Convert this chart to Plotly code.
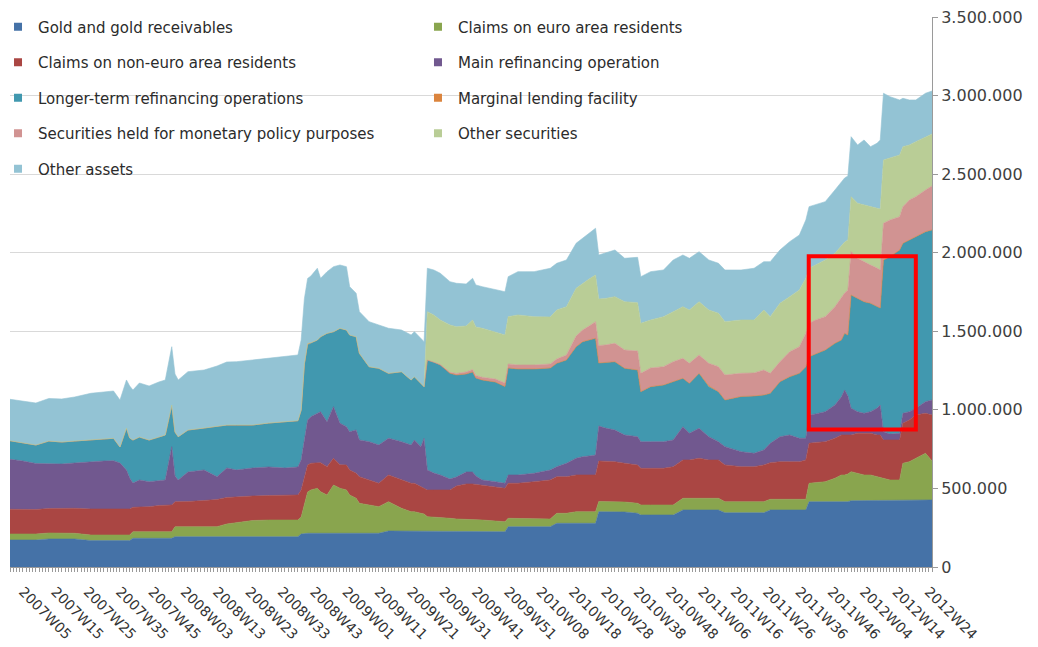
import plotly.graph_objects as go

# ---------------- data (EUR millions, weekly financial statements) ----------------
weeks = [
    "2007W01", "2007W05", "2007W09", "2007W13", "2007W17", "2007W21", "2007W26", "2007W30", "2007W33", "2007W35",
    "2007W37", "2007W38", "2007W39", "2007W41", "2007W44", "2007W47", "2007W49", "2007W51", "2007W52",
    "2008W01", "2008W04", "2008W09", "2008W13", "2008W16", "2008W19", "2008W24", "2008W29", "2008W34", "2008W38",
    "2008W39", "2008W40", "2008W41", "2008W42", "2008W44", "2008W45", "2008W47", "2008W49", "2008W51",
    "2009W01", "2009W02", "2009W04", "2009W05", "2009W08", "2009W11", "2009W14", "2009W18", "2009W21", "2009W22",
    "2009W24", "2009W25", "2009W26", "2009W28", "2009W30", "2009W33", "2009W35", "2009W38", "2009W40", "2009W41",
    "2009W43", "2009W47", "2009W50", "2009W51",
    "2010W01", "2010W06", "2010W11", "2010W13", "2010W16", "2010W19", "2010W21", "2010W23", "2010W25", "2010W26",
    "2010W28", "2010W31", "2010W34", "2010W38", "2010W39", "2010W42", "2010W46", "2010W49", "2010W52",
    "2011W02", "2011W05", "2011W08", "2011W11", "2011W13", "2011W18", "2011W22", "2011W25", "2011W27", "2011W30",
    "2011W33", "2011W36", "2011W38", "2011W39", "2011W41", "2011W44", "2011W47", "2011W49", "2011W50", "2011W51",
    "2011W52",
    "2012W02", "2012W04", "2012W06", "2012W08", "2012W09", "2012W10", "2012W12", "2012W15", "2012W16", "2012W18",
    "2012W20", "2012W23", "2012W25",
]

gold = [
    171800, 171800, 171800, 178200, 178200, 178200, 168600, 168600, 168600, 168600,
    168600, 168600, 182600, 182600, 182600, 182600, 182600, 182600, 192800,
    192800, 192800, 192800, 192800, 192800, 192800, 192800, 192800, 192800, 192800,
    210000, 214500, 214500, 214500, 214500, 214500, 214500, 214500, 214500,
    214500, 214500, 214500, 214500, 214500, 214500, 229100, 229100, 229100, 229100,
    229100, 229100, 229100, 229100, 229100, 225900, 225900, 225900, 225900, 225900,
    225900, 225900, 224600, 256500,
    256500, 256500, 256500, 278100, 278100, 278100, 278100, 278100, 278100, 351900,
    351900, 351900, 350000, 341700, 330900, 330900, 330900, 330900, 362700,
    362700, 362700, 362700, 362700, 345600, 345600, 345600, 345600, 362700, 362700,
    362700, 362700, 362700, 415600, 415600, 415600, 415600, 415600, 415600, 415600,
    421900,
    421900, 421900, 421900, 421900, 421900, 421900, 421900, 421900, 421900, 421900,
    426400, 426400, 426400,
]

claims_euro = [
    38200, 38200, 38200, 38200, 36300, 36300, 35000, 35000, 35000, 35000,
    35000, 35000, 42000, 42000, 42000, 42000, 42000, 42000, 63600,
    63600, 63600, 63600, 63600, 80800, 89100, 103100, 106300, 106300, 106300,
    108200, 180100, 262800, 275600, 286400, 264700, 243700, 307400, 286400,
    275600, 243700, 222700, 190900, 180100, 169300, 186500, 144500, 122800, 122800,
    112600, 108200, 91000, 89100, 85900, 84000, 79600, 77600, 77600, 76400,
    73200, 66800, 63600, 53500,
    53500, 53500, 49000, 63600, 63600, 73800, 73800, 73800, 73800, 64900,
    64900, 63600, 63600, 63600, 63600, 63600, 63600, 63600, 74500,
    74500, 74500, 74500, 74500, 70000, 70000, 70000, 70000, 68100, 68100,
    68100, 63600, 68100, 117100, 122200, 127300, 148900, 169900, 169900, 176300,
    184600,
    174400, 163600, 163600, 152700, 150800, 142600, 131700, 131700, 238000, 248200,
    265400, 297200, 248200,
]

claims_non_euro = [
    157200, 155900, 155900, 155900, 159100, 159100, 165500, 165500, 165500, 165500,
    165500, 165500, 155300, 155300, 159100, 166700, 169900, 169900, 159100,
    159100, 160400, 166700, 173100, 168600, 165500, 155900, 155900, 159100, 159100,
    171800, 171800, 171800, 169900, 165000, 185000, 180000, 169900, 150000,
    159100, 159100, 159100, 169300, 159100, 148900, 169900, 180100, 180700, 180700,
    169300, 165500, 169900, 171800, 175000, 180100, 210000, 224600, 224600, 222700,
    222700, 218300, 212600, 222700,
    222700, 232900, 248200, 232900, 232900, 233600, 233600, 233600, 233600, 257700,
    257700, 254600, 246300, 243700, 233600, 233600, 233600, 243700, 243700,
    243700, 254600, 243700, 243700, 233600, 222700, 222700, 233600, 232900, 239300,
    239300, 243700, 250100, 254600, 254600, 254600, 254600, 254600, 254600, 248200,
    233600,
    254600, 265400, 265400, 265400, 267300, 243700, 254600, 254600, 254600, 265400,
    275600, 254600, 292700,
]

main_refinancing = [
    318200, 308700, 292700, 283200, 281900, 288300, 301000, 305500, 307400, 292700,
    248200, 197300, 154600, 173700, 159100, 159100, 159100, 371000, 163600,
    138100, 187700, 194100, 145100, 187700, 169900, 178200, 181400, 171800, 178200,
    190900, 241800, 286400, 296600, 312300, 324100, 286500, 328400, 263700,
    243700, 243700, 275600, 233600, 243700, 243700, 233600, 243700, 243700, 275600,
    254600, 316300, 127300, 108200, 95500, 70000, 57300, 76400, 76400, 54100,
    31800, 31800, 31800, 52800,
    52800, 53500, 63600, 63600, 85300, 106300, 116500, 120900, 127300, 222700,
    210000, 201700, 180100, 180100, 169300, 169300, 169300, 169900, 211900,
    169900, 190900, 148300, 116500, 116500, 95500, 85300, 95500, 123500, 159100,
    169900, 148900, 138100, 180100, 181400, 190900, 211900, 243700, 286400, 248200,
    169900,
    137500, 127300, 137500, 169900, 190900, 52800, 38200, 42600, 63600, 52800,
    42600, 73800, 95500,
]

longer_term_refinancing = [
    118400, 114600, 117700, 146400, 140000, 140000, 138100, 140000, 142600, 101800,
    267300, 254600, 273700, 273700, 265400, 276800, 286400, 265400, 280000,
    275600, 267300, 267300, 318200, 273700, 286400, 273700, 280000, 295900, 294700,
    318200, 477300, 477300, 467100, 466500, 477300, 562600, 477300, 604600,
    615400, 615400, 593800, 551800, 477300, 488100, 413700, 445500, 413700, 402800,
    403500, 328400, 700000, 706400, 700000, 672700, 649100, 623700, 636400, 623700,
    636400, 634500, 616000, 681000,
    674600, 663800, 649100, 658000, 657400, 710200, 731900, 738200, 742700, 400900,
    416800, 434700, 424500, 424500, 318200, 350000, 360800, 371000, 308000,
    318200, 350000, 318200, 318200, 297200, 351300, 364700, 350000, 318200, 350000,
    371000, 413700, 455700, 371000, 381800, 392700, 392700, 360800, 360800, 388200,
    721000,
    721700, 710200, 689900, 646600, 617300, 1092700, 1128300, 1166500, 1081900, 1092700,
    1092100, 1081900, 1081900,
]

marginal_lending = [
    0, 0, 0, 0, 0, 0, 0, 0, 0, 0,
    0, 0, 0, 0, 0, 0, 0, 0, 0,
    0, 0, 0, 0, 0, 0, 0, 0, 0, 0,
    0, 8000, 10000, 4000, 0, 0, 0, 0, 0,
    0, 0, 0, 0, 0, 0, 0, 0, 0, 0,
    0, 0, 0, 0, 0, 0, 0, 0, 0, 0,
    0, 0, 0, 0,
    0, 0, 0, 0, 0, 0, 0, 0, 0, 0,
    0, 0, 0, 0, 0, 0, 0, 0, 0,
    0, 0, 6400, 0, 0, 0, 0, 0, 0, 0,
    0, 0, 0, 0, 0, 0, 0, 0, 0, 0,
    0,
    0, 0, 0, 0, 0, 0, 0, 0, 0, 0,
    0, 0, 0,
]

securities_monetary_policy = [
    0, 0, 0, 0, 0, 0, 0, 0, 0, 0,
    0, 0, 0, 0, 0, 0, 0, 0, 0,
    0, 0, 0, 0, 0, 0, 0, 0, 0, 0,
    0, 0, 0, 0, 0, 0, 0, 0, 0,
    0, 0, 0, 0, 0, 0, 0, 0, 0, 0,
    0, 0, 0, 0, 3200, 6400, 9500, 12700, 15900, 15900,
    17200, 19100, 22300, 25500,
    25500, 25500, 25500, 27400, 31800, 68100, 74500, 89100, 105600, 111400,
    111400, 117100, 116500, 120900, 117100, 119000, 116500, 127300, 127300,
    127300, 116500, 142600, 159100, 159100, 147600, 146400, 159100, 127300, 127300,
    159100, 169300, 212600, 212600, 216400, 211900, 232900, 275600, 256500, 286400,
    275600,
    254600, 252600, 243700, 246300, 241800, 233600, 233600, 211900, 232900, 254600,
    254600, 265400, 280000,
]

other_securities = [
    0, 0, 0, 0, 0, 0, 0, 0, 0, 0,
    0, 0, 0, 0, 0, 0, 0, 0, 0,
    0, 0, 0, 0, 0, 0, 0, 0, 0, 0,
    0, 0, 0, 0, 0, 0, 0, 0, 0,
    0, 0, 0, 0, 0, 0, 0, 0, 0, 0,
    0, 0, 307400, 299100, 283200, 301000, 297800, 292700, 315000, 308700,
    311800, 301000, 305500, 301000,
    318200, 307400, 299100, 311800, 307400, 303600, 297200, 299100, 297200, 295900,
    295900, 296600, 307400, 307400, 318200, 305500, 318200, 318200, 328400,
    339200, 339200, 339200, 339800, 339200, 339200, 337300, 381800, 360200, 371700,
    350000, 360800, 350000, 350000, 350000, 360800, 339800, 329000, 324600, 318200,
    350000,
    350000, 362700, 371000, 379900, 388200, 402800, 392700, 392700, 381800, 350000,
    350000, 339200, 330900,
]

other_assets = [
    263500, 267300, 267300, 270500, 273700, 280000, 297200, 299100, 301000, 299100,
    305500, 330900, 318200, 343700, 343700, 350000, 350000, 371000, 369100,
    360800, 371000, 369100, 386300, 400900, 402800, 413700, 411800, 416800, 418100,
    445500, 413700, 413700, 423800, 456300, 371700, 392000, 413700, 402800,
    402800, 307400, 276200, 264700, 286400, 275600, 286400, 265400, 286400, 286400,
    286400, 286400, 276200, 286400, 297200, 275600, 276200, 267300, 265400, 267300,
    264700, 265400, 275600, 254600,
    275600, 286400, 309900, 297200, 297200, 286400, 286400, 292700, 297200, 280000,
    289600, 297200, 276200, 288900, 296600, 307400, 297200, 329000, 329000,
    329000, 318200, 318200, 318200, 329000, 318200, 329000, 307400, 350000, 339200,
    350000, 350000, 371000, 392000, 381800, 371000, 402800, 402800, 407300, 407300,
    381800,
    371000, 413700, 381800, 413700, 439100, 424500, 392000, 350000, 308000, 286400,
    265400, 276200, 273700,
]

tick_labels = [
    "2007W05", "2007W15", "2007W25", "2007W35", "2007W45",
    "2008W03", "2008W13", "2008W23", "2008W33", "2008W43",
    "2009W01", "2009W11", "2009W21", "2009W31", "2009W41", "2009W51",
    "2010W08", "2010W18", "2010W28", "2010W38", "2010W48",
    "2011W06", "2011W16", "2011W26", "2011W36", "2011W46",
    "2012W04", "2012W14", "2012W24",
]

first_week = "2007W01"
last_week = "2012W25"
weeks_per_year = {2007: 52, 2008: 52, 2009: 53, 2010: 52, 2011: 52, 2012: 52}

# highlighted window (red box) : weeks and value band
highlight_weeks = ("2011W39", "2012W21")
highlight_values = (875000, 1977000)


def week_pos(label):
    year, wk = int(label[:4]), int(label[5:])
    return sum(weeks_per_year[k] for k in range(2007, year)) + wk - 1


x = [week_pos(w) for w in weeks]

series = [
    ("Gold and gold receivables", gold, "#4572A7", "legend"),
    ("Claims on euro area residents", claims_euro, "#89A54E", "legend2"),
    ("Claims on non-euro area residents", claims_non_euro, "#AA4643", "legend"),
    ("Main refinancing operation", main_refinancing, "#71588F", "legend2"),
    ("Longer-term refinancing operations", longer_term_refinancing, "#4198AF", "legend"),
    ("Marginal lending facility", marginal_lending, "#DB843D", "legend2"),
    ("Securities held for monetary policy purposes", securities_monetary_policy, "#D19392", "legend"),
    ("Other securities", other_securities, "#B9CD96", "legend2"),
    ("Other assets", other_assets, "#93C3D4", "legend"),
]

fig = go.Figure()
for name, vals, color, _ in series:
    fig.add_trace(go.Scatter(
        x=x, y=vals, mode="lines", stackgroup="assets", name=name,
        line=dict(width=0.6, color=color), fillcolor=color, showlegend=False,
        hovertemplate="%{y:,}<extra>" + name + "</extra>",
    ))

# legend entries (small square swatches, two columns)
for name, vals, color, leg in series:
    fig.add_trace(go.Scatter(
        x=[None], y=[None], mode="markers", name=name, legend=leg, legendgroup=name,
        marker=dict(symbol="square", size=8, color=color), showlegend=True,
    ))

x0 = week_pos(highlight_weeks[0]) - 0.1
x1 = week_pos(highlight_weeks[1]) - 1.0
fig.add_shape(type="rect", xref="x", yref="y", x0=x0, x1=x1,
              y0=highlight_values[0], y1=highlight_values[1],
              line=dict(color="#FF0000", width=4), fillcolor="rgba(0,0,0,0)")

legend_common = dict(
    xanchor="left", yanchor="top", y=1.012, bgcolor="rgba(0,0,0,0)",
    font=dict(family="DejaVu Sans", size=15, color="#2b2b2b"),
    tracegroupgap=13, traceorder="grouped", itemwidth=30,
)

fig.update_layout(
    width=1030, height=639,
    margin=dict(l=2, r=106, t=9, b=80, autoexpand=False),
    paper_bgcolor="white", plot_bgcolor="white",
    separators=",.",
    font=dict(family="DejaVu Sans", color="#333333"),
    legend=dict(x=-0.013, **legend_common),
    legend2=dict(x=0.4425, **legend_common),
    xaxis=dict(
        range=[week_pos(first_week), week_pos(last_week)],
        tickmode="array",
        tickvals=[week_pos(t) for t in tick_labels],
        ticktext=tick_labels,
        tickangle=45,
        tickfont=dict(family="DejaVu Sans", size=14, color="#333333"),
        ticks="outside", ticklen=4, tickcolor="#9a9a9a",
        ticklabelstandoff=6,
        minor=dict(tickmode="linear", tick0=0, dtick=1, ticks="outside",
                   ticklen=4, tickcolor="#9a9a9a", showgrid=False),
        showgrid=False, zeroline=False, automargin=False,
        ticklabeloverflow="allow",
        showline=True, linecolor="#9a9a9a", linewidth=1,
    ),
    yaxis=dict(
        side="right",
        range=[0, 3500000], dtick=500000, tick0=0,
        tickformat=",d",
        tickfont=dict(family="DejaVu Sans", size=16, color="#404040"),
        showgrid=True, gridcolor="#d9d9d9", gridwidth=1,
        zeroline=False, automargin=False,
        ticklabeloverflow="allow",
        showline=True, linecolor="#9a9a9a", linewidth=1,
        ticks="outside", ticklen=5, tickcolor="#9a9a9a",
    ),
)

fig.write_html("out.html")
